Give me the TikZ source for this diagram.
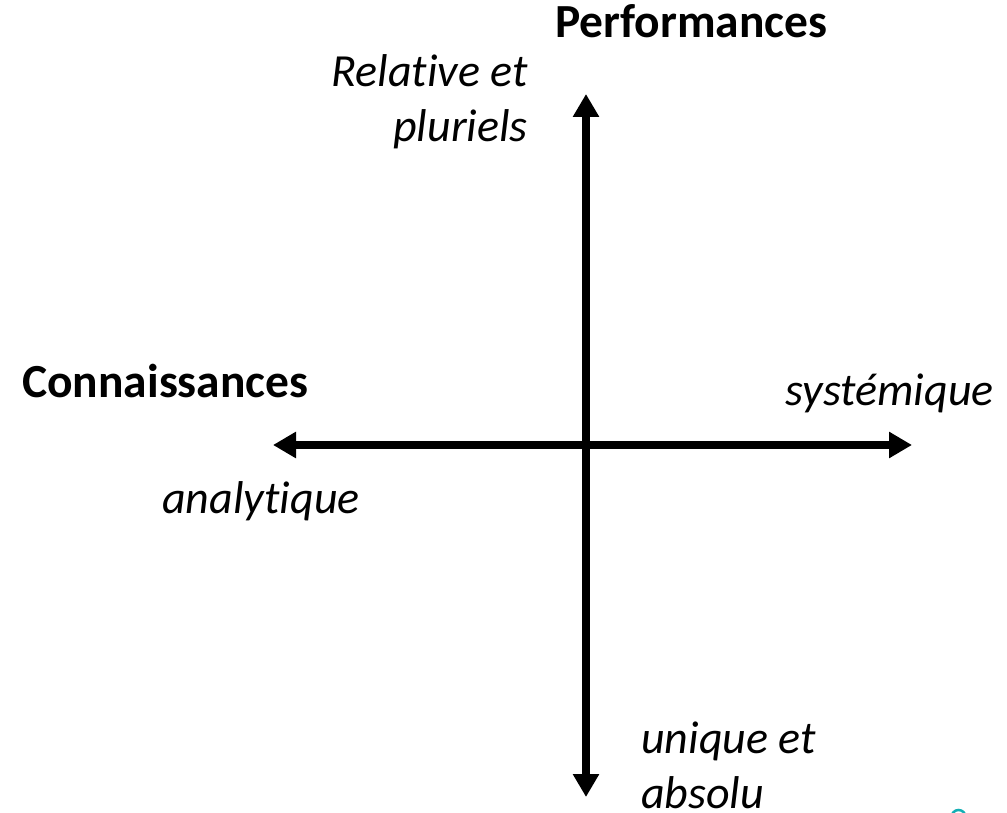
\documentclass[tikz,border=0pt]{standalone}
\usepackage{fontspec}
\setmainfont{Carlito}[Ligatures=NoCommon]
\usetikzlibrary{arrows.meta}
\definecolor{tealmark}{RGB}{20,175,180}
\begin{document}
\begin{tikzpicture}[x=1pt,y=-1pt,
  lbl/.style={inner sep=0pt},
  bold/.style={lbl,font=\fontsize{47.5}{55}\selectfont\bfseries},
  ital/.style={lbl,font=\fontsize{46}{55}\selectfont\itshape},
  axis/.style={line width=8pt,{Triangle[length=23pt,width=25pt]}-{Triangle[length=23pt,width=25pt]}}]
\useasboundingbox (0,0) rectangle (1007,813);
\coordinate (L) at (273,445);
\coordinate (R) at (912,445);
\coordinate (T) at (586,94);
\coordinate (B) at (586,797);
\draw[axis] (L) -- (R);
\draw[axis] (T) -- (B);
\node[bold,anchor=base west] (perf) at (555,38) {Performances};
\node[bold,anchor=base west] (conn) at (22,397) {Connaissances};
\node[ital,anchor=base east,align=right] (rel) at (528,142) {Relative et\\pluriels};
\node[ital,anchor=base east] (sys) at (994,405) {systémique};
\node[ital,anchor=base west] (ana) at (162,513) {analytique};
\node[ital,anchor=base west,align=left] (uni) at (641,808) {unique et\\absolu};
\draw[tealmark,line width=2.5pt] (958.5,817) circle (7);
\end{tikzpicture}
\end{document}
